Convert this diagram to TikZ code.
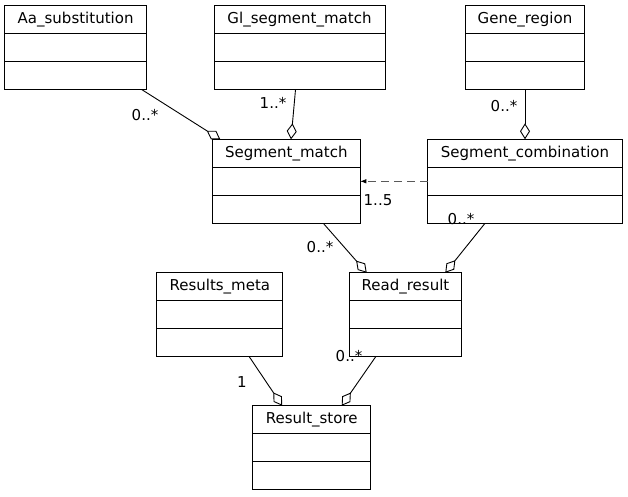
\documentclass[tikz,border=0pt]{standalone}
\usepackage{fontspec}
\setmainfont{DejaVu Sans}
\usetikzlibrary{arrows.meta,calc}
\tikzset{
  classbox/.style={draw, line width=1pt, fill=white, inner sep=0pt, outer sep=0pt, minimum height=84pt},
  ctitle/.style={font=\fontsize{15}{18}\selectfont, inner sep=0pt},
  mult/.style={font=\fontsize{15}{18}\selectfont, inner sep=0pt},
  agg/.style={draw, line width=0.9pt, -{Diamond[open, length=16pt, width=10pt, line width=0.9pt]}},
  dep/.style={draw, line width=0.7pt, black!65, dash pattern=on 8pt off 5pt, -{Latex[length=6pt, width=4.5pt, black]}}
}
\newcommand\umlclass[5]{%
  \node[classbox, minimum width=#4pt] (#1) at (#2,#3) {};
  \draw[line width=1pt] ([yshift=-28pt]#1.north west) -- ([yshift=-28pt]#1.north east);
  \draw[line width=1pt] ([yshift=-56pt]#1.north west) -- ([yshift=-56pt]#1.north east);
  \node[ctitle] (#1-t) at ([yshift=-14pt]#1.north) {#5};
}
\begin{document}
\begin{tikzpicture}[x=1pt, y=-1pt]
\path[fill=white] (0,0) rectangle (628,496);
\useasboundingbox (0,0) rectangle (628,496);

\umlclass{aa}{75.6}{47.7}{142.7}{Aa\_substitution}
\umlclass{gl}{299.5}{47.7}{171}{Gl\_segment\_match}
\umlclass{gene}{525}{47.7}{118.6}{Gene\_region}
\umlclass{sm}{286.3}{181.3}{148}{Segment\_match}
\umlclass{sc}{525}{181.3}{194.6}{Segment\_combination}
\umlclass{rm}{219.8}{314.7}{125.7}{Results\_meta}
\umlclass{rr}{405.5}{314.7}{111.6}{Read\_result}
\umlclass{rs}{311.7}{447.7}{118}{Result\_store}

\draw[agg] ($(aa.south east)+(-5,0)$) -- ($(sm.north west)+(8,0)$);
\draw[agg] ($(gl.south)+(-4,0)$) -- ($(sm.north)+(4.7,0)$);
\draw[agg] (gene.south) -- (sc.north);
\draw[dep] (sc.west) -- (sm.east);
\draw[agg] ($(sm.south east)+(-37,0)$) -- ($(rr.north west)+(17,0)$);
\draw[agg] ($(sc.south)+(-40,0)$) -- ($(rr.north east)+(-16,0)$);
\draw[agg] ($(rm.south east)+(-33.4,0)$) -- ($(rs.north west)+(29.5,0)$);
\draw[agg] ($(rr.south west)+(26,0)$) -- ($(rs.north east)+(-29,0)$);

\node[mult] (m1) at (145,115) {0..*};
\node[mult] (m2) at (273,103) {1..*};
\node[mult] (m3) at (504,106) {0..*};
\node[mult] (m4) at (378,200) {1..5};
\node[mult] (m5) at (320,247) {0..*};
\node[mult] (m6) at (461,219) {0..*};
\node[mult] (m7) at (242,382) {1};
\node[mult] (m8) at (349,356) {0..*};
\end{tikzpicture}
\end{document}
